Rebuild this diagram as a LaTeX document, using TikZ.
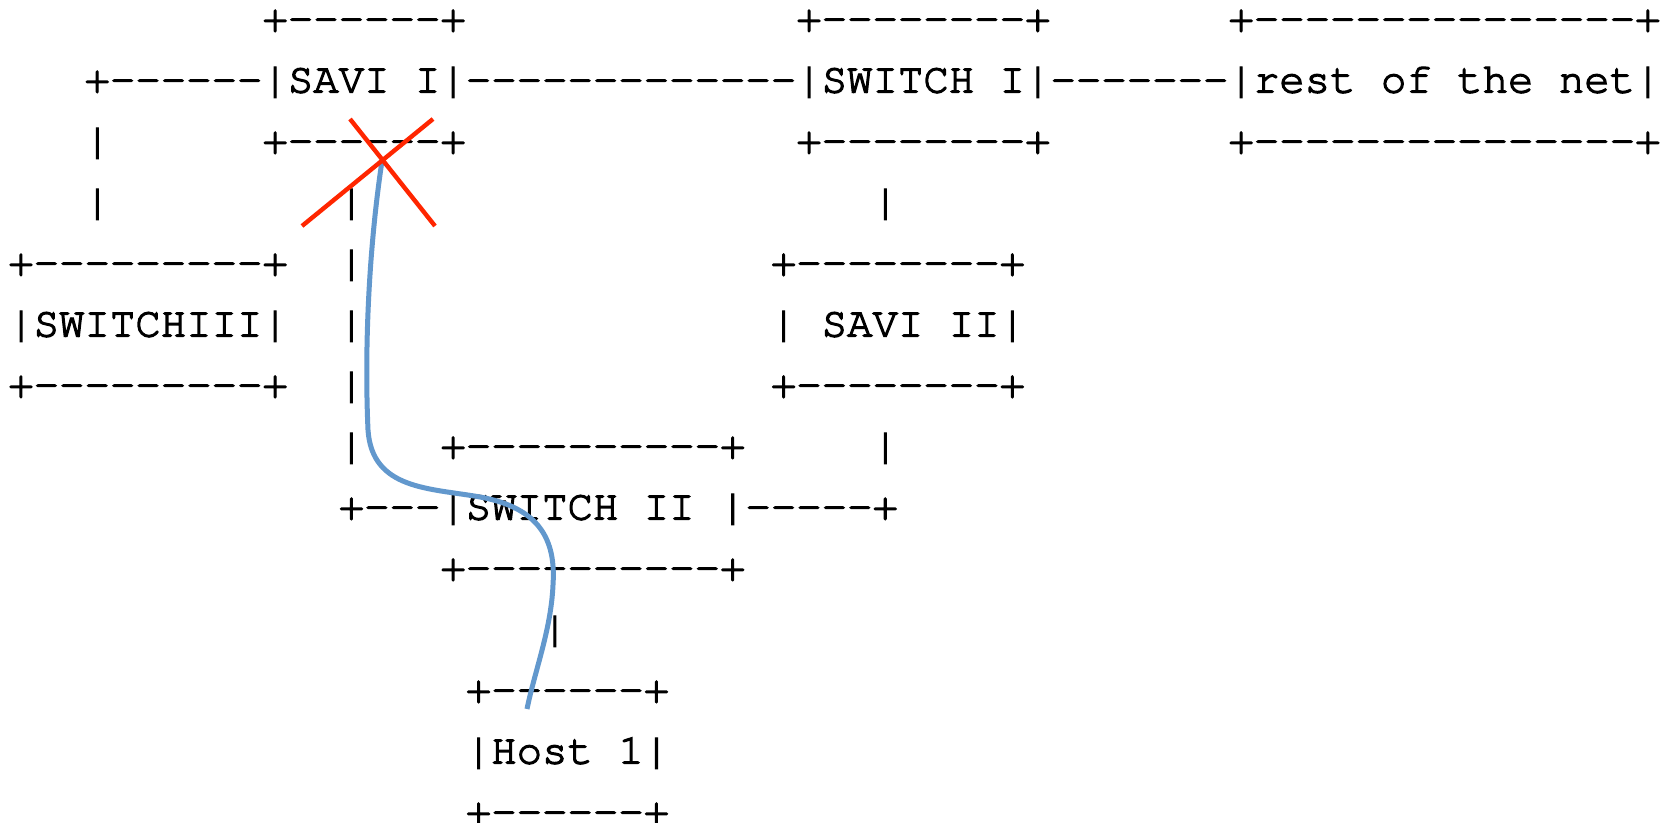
\documentclass[tikz,border=0pt]{standalone}
\usepackage{fontspec}
\setmonofont{texgyrecursor-regular.otf}[FakeBold=3]
\definecolor{xred}{RGB}{255,38,0}
\definecolor{pathblue}{RGB}{98,152,205}
\tikzset{
  asc/.style={anchor=base west, inner sep=0pt, outer sep=0pt,
    font=\ttfamily\fontsize{21.18pt}{25pt}\selectfont, text=black},
  cross/.style={draw=xred, line width=2.2pt},
  route/.style={draw=pathblue, line width=2.5pt},
}
\newcommand\ascii[4]{\node[asc] (#1) at ({8.29+25.42*#2},{31.5+61*(#3-1)}) {#4};}
\begin{document}
\begin{tikzpicture}[x={(0.5pt,0)}, y={(0,-0.5pt)}]
\fill[white] (0,0) rectangle (1664,823);
\useasboundingbox (0,0) rectangle (1664,823);
% line 1
\ascii{t1a}{10}{1}{+------+}
\ascii{t1b}{31}{1}{+--------+}
\ascii{t1c}{48}{1}{+---------------+}
% line 2
\ascii{l2a}{3}{2}{+------}
\ascii{savi1}{10}{2}{|SAVI I|}
\ascii{l2b}{18}{2}{-------------}
\ascii{switch1}{31}{2}{|SWITCH I|}
\ascii{l2c}{41}{2}{-------}
\ascii{rest}{48}{2}{|rest of the net|}
% line 3
\ascii{l3a}{3}{3}{|}
\ascii{b3a}{10}{3}{+------+}
\ascii{b3b}{31}{3}{+--------+}
\ascii{b3c}{48}{3}{+---------------+}
% line 4
\ascii{l4a}{3}{4}{|}
\ascii{l4b}{13}{4}{|}
\ascii{l4c}{34}{4}{|}
% line 5
\ascii{t5a}{0}{5}{+---------+}
\ascii{l5b}{13}{5}{|}
\ascii{t5c}{30}{5}{+--------+}
% line 6
\ascii{switch3}{0}{6}{|SWITCHIII|}
\ascii{l6b}{13}{6}{|}
\ascii{savi2}{30}{6}{| SAVI II|}
% line 7
\ascii{b7a}{0}{7}{+---------+}
\ascii{l7b}{13}{7}{|}
\ascii{b7c}{30}{7}{+--------+}
% line 8
\ascii{l8a}{13}{8}{|}
\ascii{t8b}{17}{8}{+----------+}
\ascii{l8c}{34}{8}{|}
% line 9
\ascii{l9a}{13}{9}{+---}
\ascii{switch2}{17}{9}{|SWITCH II |}
\ascii{l9b}{29}{9}{-----+}
% line 10-14
\ascii{b10}{17}{10}{+----------+}
\ascii{l11}{21}{11}{|}
\ascii{t12}{18}{12}{+------+}
\ascii{host}{18}{13}{|Host 1|}
\ascii{b14}{18}{14}{+------+}
% blue path
\draw[route] (382,161) .. controls (370,240) and (364,340) .. (368,430)
  .. controls (372,490) and (430,488) .. (480,497)
  .. controls (540,508) and (556,540) .. (553,585)
  .. controls (551,630) and (535,670) .. (527,709);
% red cross
\draw[cross] (302,226) -- (433,119);
\draw[cross] (350,119) -- (435,226);
\end{tikzpicture}
\end{document}
